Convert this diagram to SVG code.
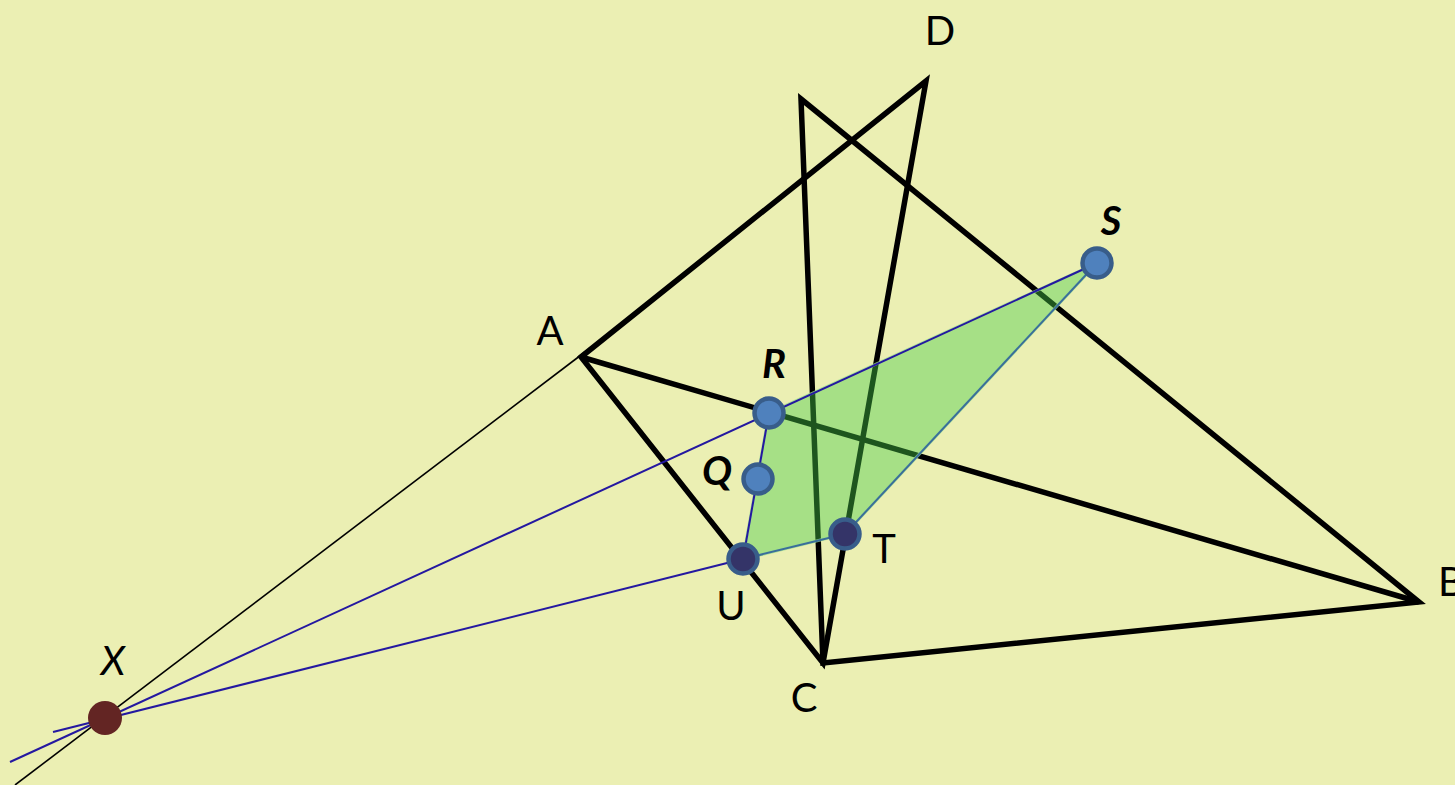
<svg xmlns="http://www.w3.org/2000/svg" width="1455" height="785" viewBox="0 0 1455 785">
<style>
.thick{fill:none;stroke:#000;stroke-width:5.5;stroke-linejoin:miter;stroke-miterlimit:10}
.thin{fill:none;stroke:#000;stroke-width:1.6}
.blue{fill:none;stroke:#2418A0;stroke-width:2}
.teal{fill:none;stroke:#3A6E9A;stroke-width:2}
.pt{fill:#4F81BD;stroke:#385D8A;stroke-width:4.5}
.ptd{fill:#343468;stroke:#385D8A;stroke-width:4.5}
.lbl{font-family:Lato,"Open Sans",sans-serif;font-size:40px;fill:#000;text-anchor:middle}
.bi{font-weight:bold;font-style:italic}
.it{font-style:italic}
</style>
<rect width="1455" height="785" fill="#EBEFB3"/>
<g id="connectors">
<line class="thin" x1="15" y1="785" x2="585" y2="352"/>
<path class="thick" d="M581,357 L926,81 L823,663 Z"/>
<path class="thick" d="M801,99 L1419,602 L823,663 Z"/>
<path class="thick" d="M581,357 L1419,602"/>
</g>
<g id="region">
<polygon points="769,413 1097,263 845,534 743,559" fill="#47CA47" fill-opacity="0.42" stroke="#9ADC8E" stroke-width="3" stroke-opacity="0.8"/>
<line class="teal" x1="1097" y1="263" x2="845" y2="534"/>
<line class="teal" x1="845" y1="534" x2="743" y2="559"/>
</g>
<g id="blue-lines">
<line class="blue" x1="10" y1="762" x2="1097" y2="263"/>
<line class="blue" x1="53" y1="732" x2="743" y2="559"/>
<line class="blue" x1="769" y1="413" x2="743" y2="559"/>
</g>
<g id="node-X"><circle cx="105" cy="718" r="17" fill="#632523"/><text class="lbl it" x="113" y="675">X</text></g>
<g id="node-R"><circle class="pt" cx="769" cy="413" r="14.5"/><text class="lbl bi" x="774" y="378">R</text></g>
<g id="node-Q"><circle class="pt" cx="758" cy="479" r="14.5"/><text class="lbl bi" x="717" y="485">Q</text></g>
<g id="node-S"><circle class="pt" cx="1097" cy="263" r="14.5"/><text class="lbl bi" x="1111" y="235">S</text></g>
<g id="node-U"><circle class="ptd" cx="743" cy="559" r="14.5"/><text class="lbl" x="731" y="620">U</text></g>
<g id="node-T"><circle class="ptd" cx="845" cy="534" r="14.5"/><text class="lbl" x="884" y="563">T</text></g>
<g id="node-A"><text class="lbl" x="550" y="345">A</text></g>
<g id="node-D"><text class="lbl" x="940" y="45">D</text></g>
<g id="node-C"><text class="lbl" x="804" y="712">C</text></g>
<g id="node-B"><text class="lbl" x="1451" y="596">B</text></g>
</svg>
